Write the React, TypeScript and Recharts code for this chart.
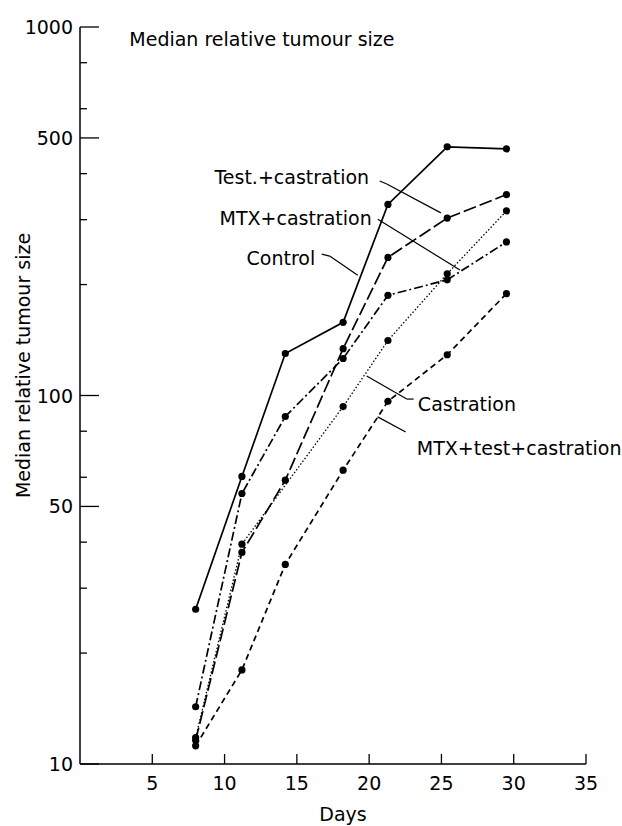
import React from 'react';
import {
  LineChart,
  Line,
  XAxis,
  YAxis,
  ReferenceLine,
  ReferenceDot,
} from 'recharts';

// days after start of treatment
const days = [8, 11.2, 14.2, 18.2, 21.3, 25.4, 29.5];

// median relative tumour size per group
const control = [26.3, 60.3, 130, 158, 330, 473, 467];
const testCastration = [11.6, 37.5, 58.9, 134, 237, 303, 351];
const mtxCastration = [14.3, 54.2, 87.7, 126, 187, 206, 261];
const castration = [11.8, 39.5, null, 93.3, 141, 214, 317];
const mtxTestCastration = [11.2, 18.0, 34.8, 62.7, 96.4, 129, 189];

const xTicks = [5, 10, 15, 20, 25, 30, 35];
const yTicks = [10, 20, 30, 40, 50, 60, 70, 80, 90, 100, 200, 300, 400, 500, 600, 700, 800, 900, 1000];
const yMajor = [10, 50, 100, 500, 1000];

const rows = days.map((day, i) => ({
  day,
  control: control[i],
  testCastration: testCastration[i],
  mtxCastration: mtxCastration[i],
  castration: castration[i],
  mtxTestCastration: mtxTestCastration[i],
}));

const FONT = '"DejaVu Sans", sans-serif';
const FS = 19;

const YTick = ({ x, y, payload }: any) => {
  const major = yMajor.includes(payload.value);
  return (
    <g>
      <line x1={x} y1={y} x2={x + (major ? 19 : 7)} y2={y} stroke="#000" strokeWidth={1.3} />
      {major && (
        <text x={x - 7} y={y + 7} textAnchor="end" fontSize={FS} fontFamily={FONT} fill="#000">
          {payload.value}
        </text>
      )}
    </g>
  );
};

const XTick = ({ x, y, payload }: any) => (
  <g>
    <line x1={x} y1={y} x2={x} y2={y - 10} stroke="#000" strokeWidth={1.3} />
    <text x={x} y={y + 26} textAnchor="middle" fontSize={FS} fontFamily={FONT} fill="#000">
      {payload.value}
    </text>
  </g>
);

// annotation text (left end of baseline, in data units)
const notes = [
  { x: 3.41, y: 890, text: 'Median relative tumour size' },
  { x: 9.3, y: 374, text: 'Test.+castration' },
  { x: 9.65, y: 290, text: 'MTX+castration' },
  { x: 11.52, y: 226, text: 'Control' },
  { x: 23.37, y: 90.5, text: 'Castration' },
  { x: 23.3, y: 68.8, text: 'MTX+test+castration' },
];

// leader lines from the labels to the curves
const leaders = [
  [{ x: 20.73, y: 382 }, { x: 21.22, y: 375 }],
  [{ x: 21.22, y: 375 }, { x: 24.96, y: 313 }],
  [{ x: 20.6, y: 301 }, { x: 26.28, y: 219 }],
  [{ x: 16.72, y: 242 }, { x: 17.27, y: 239 }],
  [{ x: 17.27, y: 239 }, { x: 19.21, y: 212 }],
  [{ x: 19.83, y: 113 }, { x: 22.6, y: 97.8 }],
  [{ x: 22.6, y: 97.8 }, { x: 23.08, y: 97.8 }],
  [{ x: 20.59, y: 87.5 }, { x: 22.53, y: 79.6 }],
];

const dot = { r: 3.6, fill: '#000', strokeWidth: 0 };

export default function App() {
  return (
    <div style={{ position: 'absolute', left: 0, top: 0, background: '#fff' }}>
      <LineChart
        width={622}
        height={826}
        data={rows}
        margin={{ top: 27, right: 36, bottom: 0, left: 0 }}
      >
        <XAxis
          type="number"
          dataKey="day"
          domain={[0, 35]}
          ticks={xTicks}
          height={62}
          tickSize={0}
          tickMargin={0}
          tickLine={false}
          tick={<XTick />}
          axisLine={{ stroke: '#000', strokeWidth: 1.5 }}
          label={{
            content: ({ viewBox }: any) => (
              <text x={viewBox.x + viewBox.width / 2 + 10} y={viewBox.y + 57} textAnchor="middle" fontSize={FS} fontFamily={FONT} fill="#000">
                Days
              </text>
            ),
          }}
        />
        <YAxis
          type="number"
          scale="log"
          domain={[10, 1000]}
          ticks={yTicks}
          allowDataOverflow
          width={80}
          tickSize={0}
          tickMargin={0}
          tickLine={false}
          tick={<YTick />}
          axisLine={{ stroke: '#000', strokeWidth: 1.5 }}
          label={{
            content: ({ viewBox }: any) => {
              const cx = 30;
              const cy = viewBox.y + viewBox.height / 2 - 30;
              return (
                <text x={cx} y={cy} transform={`rotate(-90 ${cx} ${cy})`} textAnchor="middle" fontSize={FS} fontFamily={FONT} fill="#000">
                  Median relative tumour size
                </text>
              );
            },
          }}
        />
        <Line dataKey="control" stroke="#000" strokeWidth={1.7} dot={dot} isAnimationActive={false} />
        <Line dataKey="testCastration" stroke="#000" strokeWidth={1.7} strokeDasharray="13 4" dot={dot} isAnimationActive={false} />
        <Line dataKey="mtxCastration" stroke="#000" strokeWidth={1.7} strokeDasharray="9 3 2 3" dot={dot} isAnimationActive={false} />
        <Line dataKey="castration" stroke="#000" strokeWidth={1.3} strokeDasharray="1.5 2" dot={dot} connectNulls isAnimationActive={false} />
        <Line dataKey="mtxTestCastration" stroke="#000" strokeWidth={1.7} strokeDasharray="6 4" dot={dot} isAnimationActive={false} />
        {leaders.map((seg, i) => (
          <ReferenceLine key={`l${i}`} segment={seg} stroke="#000" strokeWidth={1.2} ifOverflow="visible" />
        ))}
        {notes.map((n) => (
          <ReferenceDot
            key={n.text}
            x={n.x}
            y={n.y}
            r={0}
            ifOverflow="visible"
            shape={(p: any) => (
              <text x={p.cx} y={p.cy} fontSize={FS} fontFamily={FONT} fill="#000">
                {n.text}
              </text>
            )}
          />
        ))}
      </LineChart>
    </div>
  );
}
